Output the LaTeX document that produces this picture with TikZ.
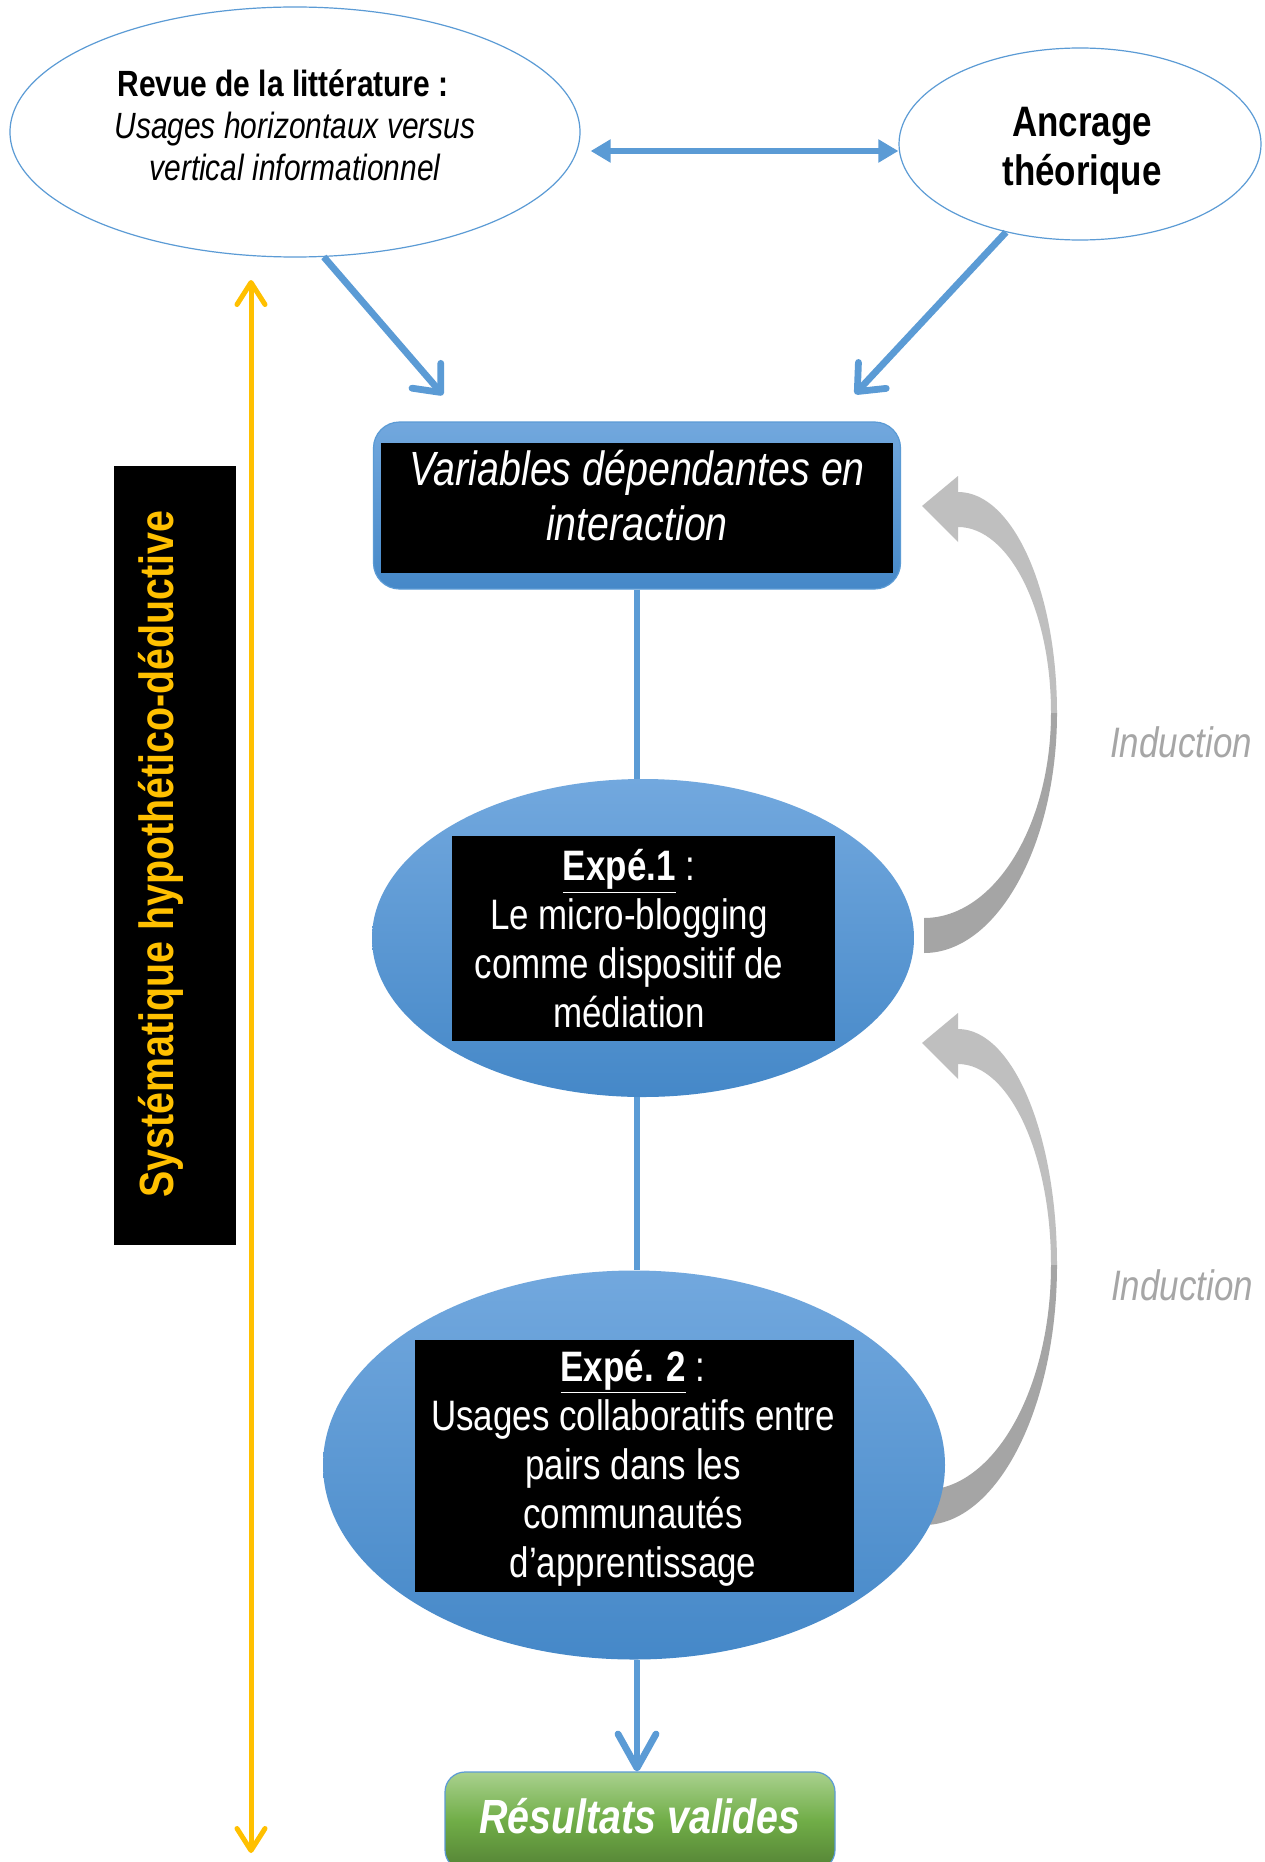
\documentclass[tikz,border=0pt]{standalone}
\usepackage{fontspec}
\setmainfont{Liberation Sans}[FakeStretch=0.82]
\usetikzlibrary{shapes.geometric,arrows.meta,calc}
\definecolor{lineblue}{HTML}{5B9BD5}
\definecolor{blueTop}{HTML}{72A8DE}
\definecolor{blueBot}{HTML}{4588C8}
\definecolor{gold}{HTML}{FFC000}
\definecolor{lgray}{HTML}{BFBFBF}
\definecolor{dgray}{HTML}{A5A5A5}
\definecolor{greenTop}{HTML}{A9D18E}
\definecolor{greenMid}{HTML}{70AD47}
\definecolor{greenBot}{HTML}{548235}
\definecolor{indgray}{HTML}{A6A6A6}
\begin{document}
\begin{tikzpicture}[x=0.5pt,y=-0.5pt,
  outline/.style={ellipse, draw=lineblue, line width=0.6pt, fill=white, inner sep=0pt},
  blueell/.style={ellipse, draw=none, top color=blueTop, bottom color=blueBot, inner sep=0pt},
  blackbox/.style={rectangle, fill=black, inner sep=0pt},
  conn/.style={draw=lineblue, line width=3.4pt},
  barb/.style={-{Straight Barb[length=11pt,width=19pt,round]}},
  wtext/.style={text=white, align=center, inner sep=0pt},
  midfont/.style={font=\fontsize{21.3}{24.5}\selectfont}
]
\clip (0,0) rectangle (1264,1862);
\fill[white] (0,0) rectangle (1264,1862);

% induction arrows (shapes)
\fill[lgray] (958,492) .. controls (1013,492) and (1057,591) .. (1057,713) -- (1051,713) .. controls (1051,610) and (1009,527) .. (958,527) -- cycle;
\fill[lgray] (922,506) -- (958,476) -- (958,542) -- cycle;
\fill[dgray] (1057,713) .. controls (1057,845) and (997,953) .. (924,953) -- (924,918) .. controls (994,918) and (1051,826) .. (1051,713) -- cycle;

\fill[lgray] (958,1029) .. controls (1013,1029) and (1057,1135) .. (1057,1265) -- (1051,1265) .. controls (1051,1154) and (1009,1064) .. (958,1064) -- cycle;
\fill[lgray] (922,1043) -- (958,1013) -- (958,1079) -- cycle;
\fill[dgray] (1057,1265) .. controls (1057,1408) and (997,1525) .. (924,1525) -- (924,1490) .. controls (994,1490) and (1051,1389) .. (1051,1265) -- cycle;

% top ellipses
\node[outline, minimum width=285pt, minimum height=125pt] (revue) at (295,132) {};
\node[font=\fontsize{18.25}{21}\selectfont, align=center, inner sep=0pt] (revuetxt) at (295,125)
  {{\bfseries Revue de la littérature :}\hspace*{12pt}\\{\itshape Usages horizontaux versus}\\{\itshape vertical informationnel}};
\node[outline, minimum width=181pt, minimum height=96pt] (ancrage) at (1080,144) {};
\node[font=\bfseries\fontsize{21.3}{24.5}\selectfont, align=center, inner sep=0pt] (ancragetxt) at (1082,151) {Ancrage\\théorique};

% variables box
\node[rectangle, rounded corners=13pt, draw=lineblue, line width=0.6pt, top color=blueTop, bottom color=blueBot, minimum width=263.5pt, minimum height=83.5pt] (var) at (637,505.5) {};
\node[blackbox, minimum width=256pt, minimum height=65pt] (varbox) at (637,508) {};
\node[wtext, font=\itshape\fontsize{24}{27.5}\selectfont] (vartxt) at (637,496) {Variables dépendantes en\\interaction};

% experiment 1
\node[blueell, minimum width=271pt, minimum height=159pt] (exp1) at (643,938) {};
\node[blackbox, minimum width=191.5pt, minimum height=102.5pt] (exp1box) at (643,938.5) {};
\node[wtext, midfont] (exp1txt) at (629,939) {\underline{\textbf{Expé.1}} :\\Le micro-blogging\\comme dispositif de\\médiation};

% experiment 2
\node[blueell, minimum width=311pt, minimum height=194.5pt] (exp2) at (634,1465) {};
\node[blackbox, minimum width=219.5pt, minimum height=126pt] (exp2box) at (634.5,1466) {};
\node[wtext, midfont] (exp2txt) at (633,1468) {\underline{\textbf{Expé. 2}} :\\Usages collaboratifs entre\\pairs dans les\\communautés\\d’apprentissage};

% results
\node[rectangle, rounded corners=10pt, draw=lineblue, line width=0.6pt, top color=greenTop, bottom color=greenBot, middle color=greenMid, minimum width=195pt, minimum height=49pt] (res) at (640,1821) {};
\node[font=\bfseries\itshape\fontsize{24}{27}\selectfont, text=white, inner sep=0pt] (restxt) at (640,1816) {Résultats valides};

% left side
\node[blackbox, minimum width=61pt, minimum height=389.5pt] (sysbox) at (175,855.5) {};
\node[rotate=90, font=\bfseries\fontsize{24}{27}\selectfont, text=gold, inner sep=0pt] (systxt) at (161,854) {Systématique hypothético-déductive};

% induction labels
\node[font=\itshape\fontsize{21.3}{24}\selectfont, text=indgray] (ind1) at (1181,742) {Induction};
\node[font=\itshape\fontsize{21.3}{24}\selectfont, text=indgray] (ind2) at (1182,1285) {Induction};

% connectors
\coordinate (a1end) at (443,395);
\coordinate (a2end) at (855,394);
\draw[conn, barb] (revue.-77) -- (a1end);
\draw[conn, barb] (ancrage.230) -- (a2end);
\draw[conn, {Triangle[length=10pt,width=11pt]}-{Triangle[length=10pt,width=11pt]}] ([xshift=5pt,yshift=-9.5pt]revue.east) -- ([yshift=-3.5pt]ancrage.west);
\draw[conn] (var.south) -- (var.south |- exp1.north);
\draw[conn] (exp1.south -| var.south) -- (var.south |- exp2.north);
\draw[conn, -{Straight Barb[length=17pt,width=19pt,round]}] (var.south |- exp2.south) -- (var.south |- res.north);

\coordinate (ytop) at (251,280);
\coordinate (ybot) at (251,1853);
\draw[draw=gold, line width=2.5pt, {Straight Barb[length=11pt,width=14pt,round]}-{Straight Barb[length=11pt,width=14pt,round]}] (ytop) -- (ybot);
\end{tikzpicture}
\end{document}
